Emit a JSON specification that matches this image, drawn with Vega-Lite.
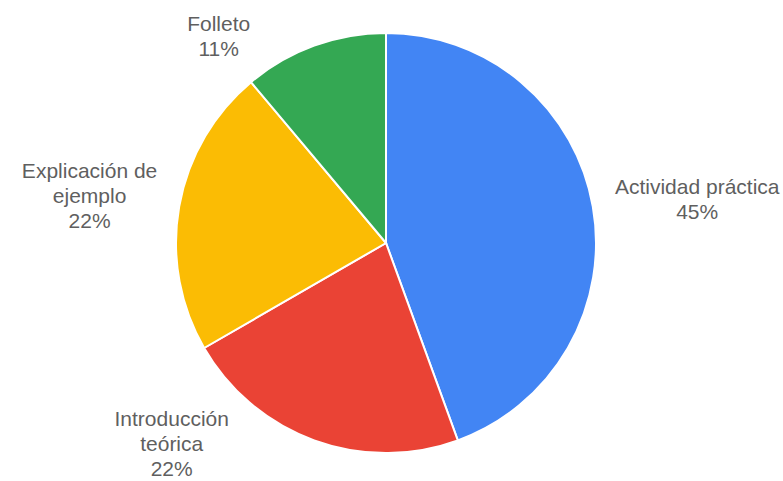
{
  "$schema": "https://vega.github.io/schema/vega-lite/v6.json",
  "width": 772,
  "height": 476,
  "autosize": "none",
  "padding": {"left": 0, "right": 11, "top": 5, "bottom": 0},
  "background": "white",
  "view": {"stroke": null},
  "data": {
    "values": [
      {"i": 1, "label": "Actividad práctica", "value": 4, "txt": "Actividad práctica\n45%"},
      {"i": 2, "label": "Introducción teórica", "value": 2, "txt": "Introducción\nteórica\n22%"},
      {"i": 3, "label": "Explicación de ejemplo", "value": 2, "txt": "Explicación de\nejemplo\n22%"},
      {"i": 4, "label": "Folleto", "value": 1, "txt": "Folleto\n11%"}
    ]
  },
  "encoding": {
    "theta": {"field": "value", "type": "quantitative", "stack": true},
    "order": {"field": "i", "type": "quantitative", "sort": "ascending"}
  },
  "layer": [
    {
      "mark": {"type": "arc", "outerRadius": 210, "stroke": "white", "strokeWidth": 2},
      "encoding": {
        "color": {
          "field": "label",
          "type": "nominal",
          "scale": {
            "domain": ["Actividad práctica", "Introducción teórica", "Explicación de ejemplo", "Folleto"],
            "range": ["#4285f4", "#ea4335", "#fbbc04", "#34a853"]
          },
          "legend": null
        }
      }
    },
    {
      "mark": {"type": "text", "radius": 316, "fontSize": 21, "font": "Liberation Sans", "fill": "#5f5f5f", "lineBreak": "\n", "lineHeight": 25, "align": "center", "baseline": "middle"},
      "encoding": {
        "text": {"condition": {"test": "datum.i == 1", "field": "txt"}, "value": ""}
      }
    },
    {
      "mark": {"type": "text", "radius": 301, "dy": -19, "fontSize": 21, "font": "Liberation Sans", "fill": "#5f5f5f", "lineBreak": "\n", "lineHeight": 25, "align": "center", "baseline": "middle"},
      "encoding": {
        "text": {"condition": {"test": "datum.i == 3", "field": "txt"}, "value": ""}
      }
    },
    {
      "mark": {"type": "text", "radius": 232, "dx": -88, "fontSize": 21, "font": "Liberation Sans", "fill": "#5f5f5f", "lineBreak": "\n", "lineHeight": 25, "align": "center", "baseline": "middle"},
      "encoding": {
        "text": {"condition": {"test": "datum.i == 4", "field": "txt"}, "value": ""}
      }
    },
    {
      "mark": {"type": "text", "radius": 188, "dx": -150, "fontSize": 21, "font": "Liberation Sans", "fill": "#5f5f5f", "lineBreak": "\n", "lineHeight": 25, "align": "center", "baseline": "middle"},
      "encoding": {
        "text": {"condition": {"test": "datum.i == 2", "field": "txt"}, "value": ""}
      }
    }
  ]
}
